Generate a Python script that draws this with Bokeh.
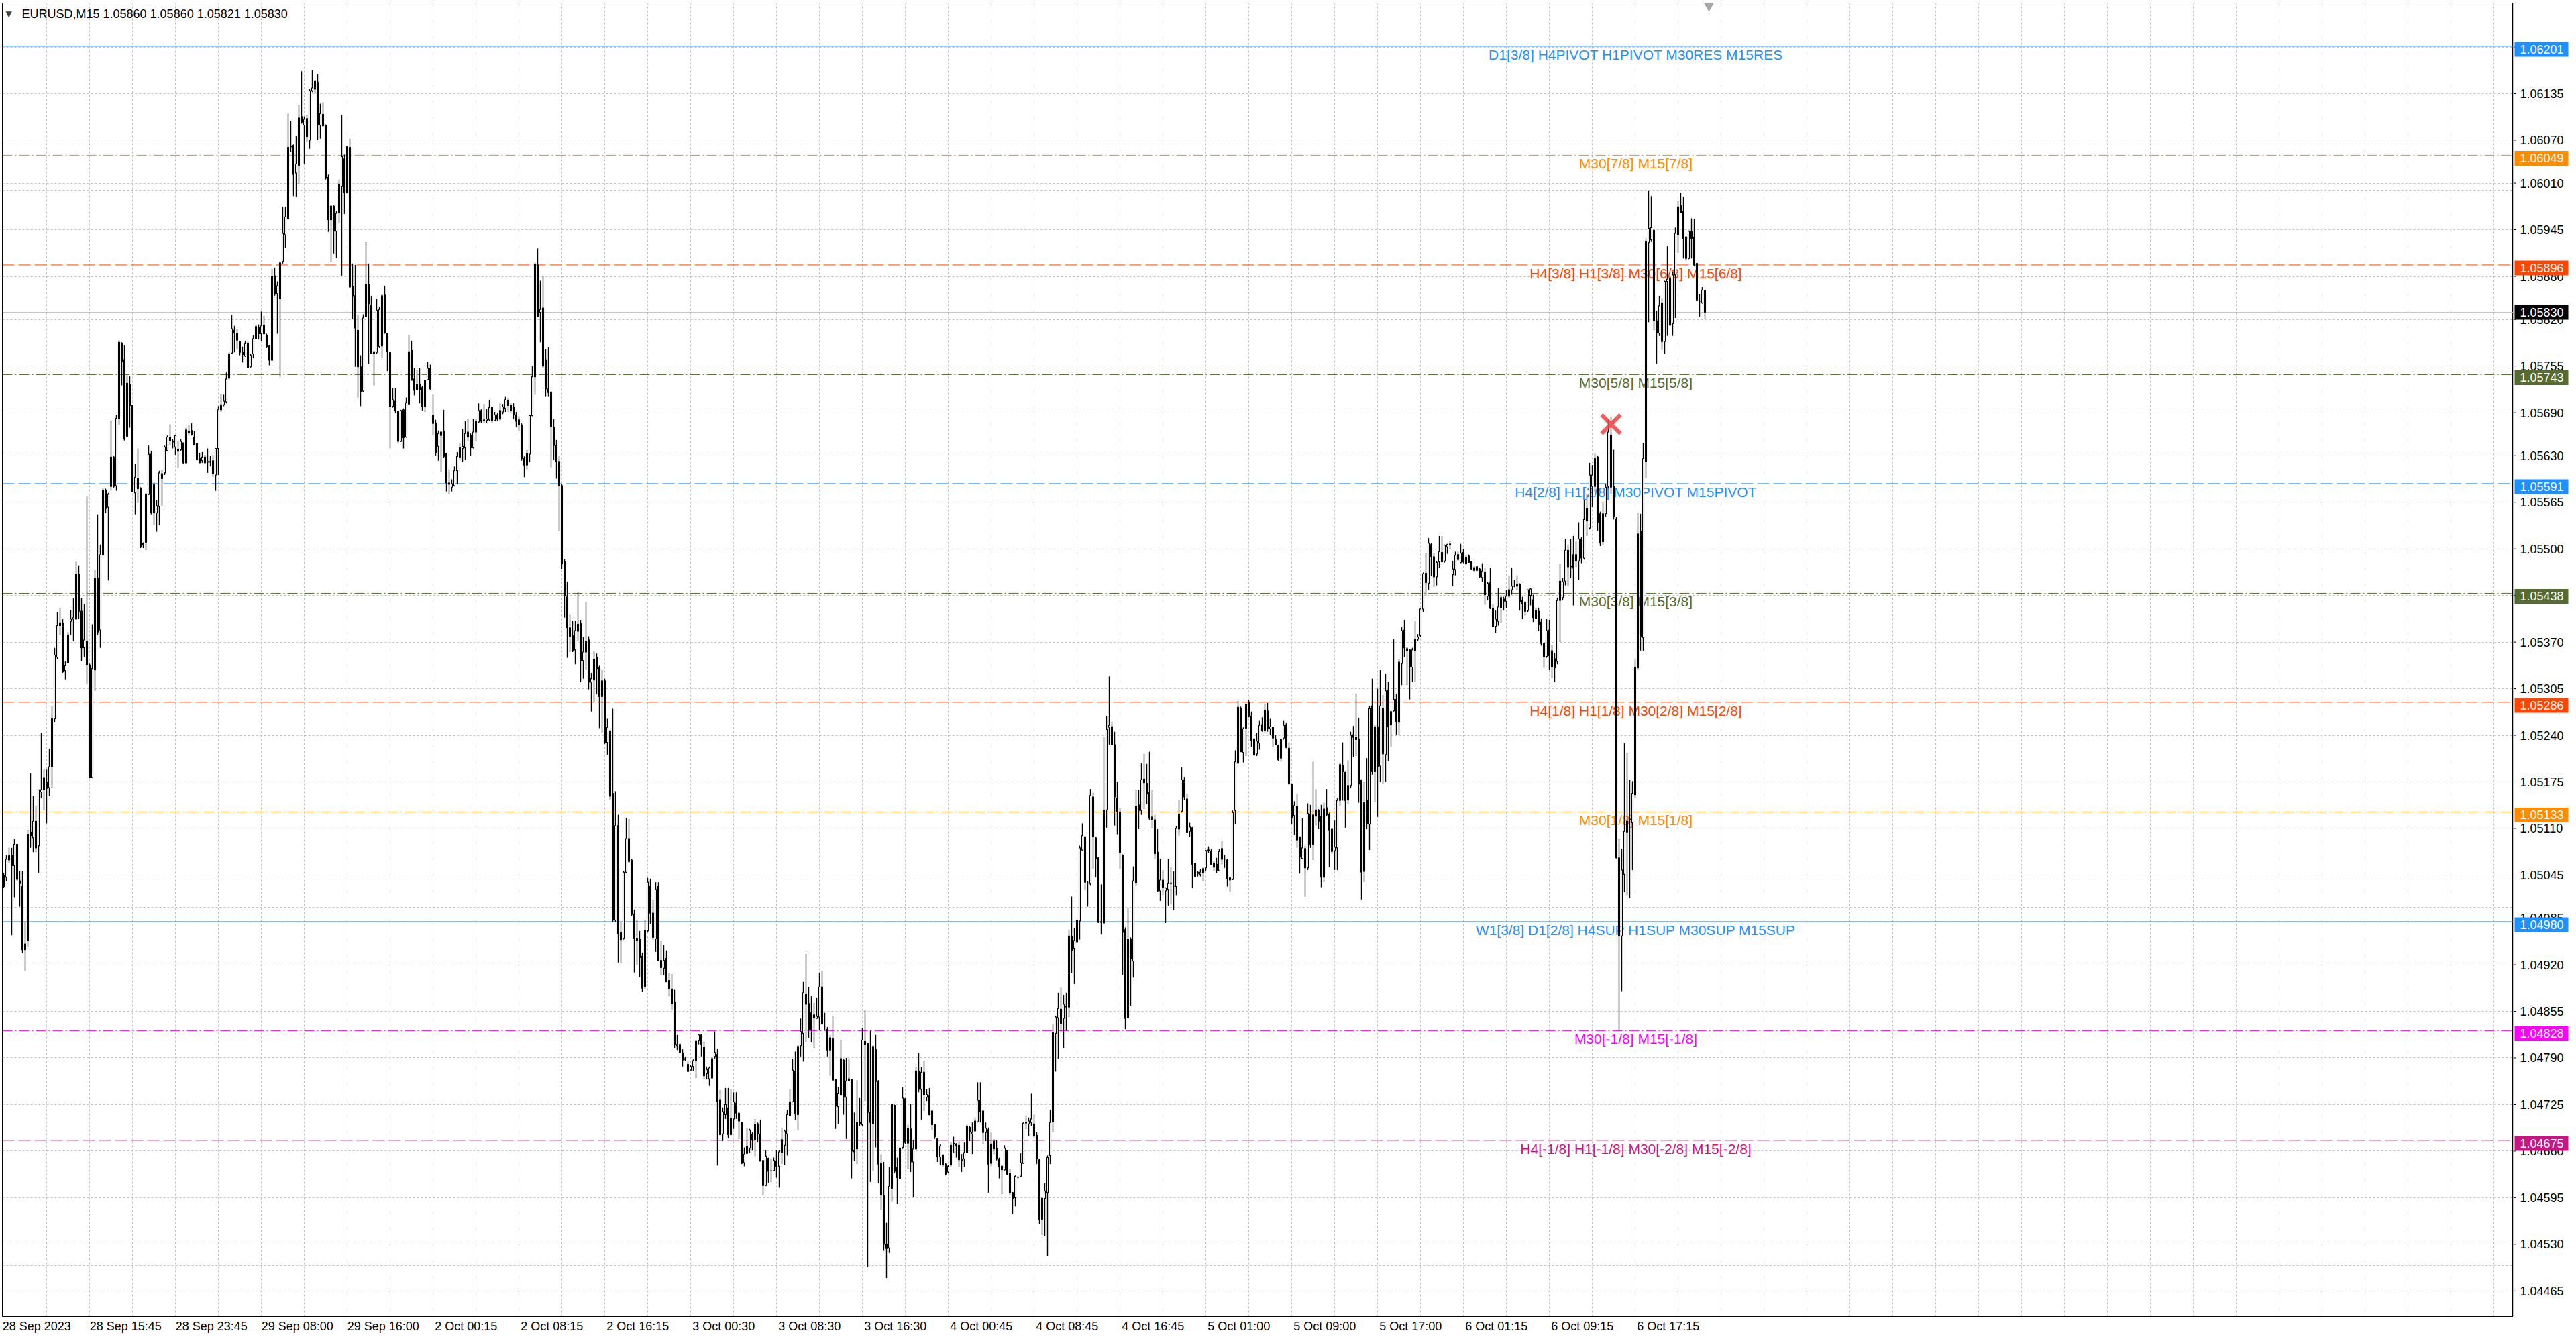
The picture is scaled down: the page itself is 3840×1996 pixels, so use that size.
import numpy as np
from bokeh.plotting import figure
from bokeh.layouts import row
from bokeh.embed import file_html
from bokeh.resources import INLINE
from bokeh.models import ColumnDataSource, FixedTicker, Grid, Span, Label, Range1d
from bokeh.core.properties import value

# EURUSD M15, prices as points above 1.00000 (5046 -> 1.05046)
OPEN_PTS = [
    5045, 5042, 5066, 5073, 5058, 5088, 5037, 5029, 4941, 4954,
    5105, 5097, 5120, 5086, 5161, 5164, 5175, 5167, 5196, 5263,
    5349, 5393, 5397, 5330, 5341, 5399, 5402, 5402, 5465, 5413,
    5362, 5371, 5338, 5181, 5331, 5459, 5387, 5492, 5582, 5558,
    5587, 5628, 5588, 5682, 5786, 5764, 5657, 5729, 5700, 5578,
    5598, 5584, 5508, 5509, 5576, 5632, 5590, 5550, 5559, 5598,
    5606, 5637, 5656, 5650, 5642, 5636, 5638, 5648, 5620, 5662,
    5665, 5656, 5647, 5627, 5623, 5628, 5621, 5621, 5623, 5603,
    5640, 5694, 5701, 5705, 5738, 5773, 5805, 5801, 5789, 5774,
    5769, 5786, 5754, 5772, 5793, 5809, 5800, 5812, 5798, 5783,
    5763, 5881, 5856, 5849, 5901, 5938, 5961, 6061, 6063, 6024,
    6035, 6103, 6091, 6100, 6070, 6139, 6141, 6151, 6091, 6106,
    6091, 6018, 5959, 5978, 5943, 5969, 6005, 6044, 5997, 6060,
    5866, 5853, 5805, 5754, 5720, 5824, 5869, 5840, 5772, 5774,
    5782, 5783, 5854, 5800, 5774, 5699, 5706, 5692, 5650, 5694,
    5656, 5702, 5777, 5737, 5722, 5730, 5725, 5698, 5736, 5752,
    5686, 5675, 5643, 5658, 5664, 5633, 5590, 5586, 5588, 5609,
    5628, 5640, 5641, 5663, 5658, 5641, 5663, 5677, 5693, 5679,
    5679, 5680, 5697, 5679, 5687, 5681, 5691, 5696, 5707, 5693,
    5698, 5687, 5680, 5673, 5626, 5617, 5632, 5686, 5740, 5896,
    5830, 5836, 5764, 5723, 5718, 5670, 5644, 5622, 5588, 5482,
    5433, 5390, 5379, 5359, 5385, 5396, 5344, 5356, 5373, 5314,
    5317, 5349, 5334, 5294, 5316, 5230, 5246, 5159, 4982, 5114,
    4965, 4957, 5049, 5096, 5066, 4990, 4954, 4955, 4932, 4889,
    4967, 5030, 4992, 4956, 5030, 4926, 4915, 4929, 4898, 4886,
    4868, 4807, 4809, 4797, 4789, 4781, 4773, 4778, 4786, 4814,
    4822, 4805, 4768, 4761, 4762, 4792, 4795, 4732, 4684, 4711,
    4720, 4683, 4705, 4727, 4713, 4700, 4644, 4657, 4664, 4683,
    4676, 4698, 4684, 4647, 4612, 4650, 4633, 4633, 4646, 4639,
    4658, 4668, 4684, 4710, 4729, 4771, 4711, 4807, 4824, 4879,
    4866, 4853, 4850, 4845, 4847, 4889, 4834, 4830, 4801, 4817,
    4760, 4722, 4738, 4787, 4735, 4758, 4760, 4661, 4663, 4700,
    4697, 4813, 4810, 4714, 4698, 4802, 4758, 4643, 4598, 4530,
    4525, 4608, 4724, 4638, 4622, 4665, 4733, 4671, 4691, 4645,
    4663, 4772, 4746, 4770, 4735, 4737, 4716, 4697, 4677, 4652,
    4655, 4642, 4631, 4641, 4671, 4670, 4668, 4648, 4649, 4658,
    4693, 4684, 4688, 4701, 4731, 4716, 4686, 4690, 4643, 4663,
    4664, 4649, 4639, 4634, 4661, 4629, 4602, 4595, 4623, 4625,
    4643, 4699, 4698, 4700, 4698, 4682, 4648, 4565, 4594, 4602,
    4654, 4701, 4824, 4846, 4858, 4845, 4861, 4861, 4959, 4943,
    4952, 4981, 5080, 5098, 5034, 5033, 5154, 5097, 5069, 4979,
    4978, 5136, 5251, 5252, 5227, 5152, 5133, 5073, 4969, 4846,
    4956, 4925, 5034, 5143, 5135, 5179, 5173, 5160, 5126, 5122,
    5077, 5023, 5038, 5023, 5025, 5033, 5029, 5029, 5109, 5134,
    5178, 5151, 5106, 5111, 5061, 5049, 5046, 5048, 5055, 5080,
    5078, 5056, 5060, 5051, 5082, 5067, 5066, 5041, 5039, 5135,
    5201, 5278, 5216, 5250, 5286, 5267, 5235, 5214, 5229, 5255,
    5247, 5274, 5249, 5251, 5234, 5226, 5208, 5236, 5255, 5222,
    5172, 5128, 5141, 5098, 5068, 5082, 5055, 5130, 5087, 5127,
    5135, 5127, 5042, 5139, 5130, 5109, 5079, 5083, 5149, 5198,
    5188, 5150, 5170, 5241, 5237, 5235, 5178, 5050, 5150, 5116,
    5281, 5189, 5252, 5197, 5277, 5213, 5303, 5255, 5274, 5290,
    5258, 5340, 5387, 5361, 5359, 5335, 5358, 5374, 5379, 5416,
    5453, 5452, 5506, 5489, 5461, 5482, 5495, 5483, 5503, 5506,
    5464, 5471, 5492, 5481, 5495, 5479, 5490, 5482, 5470, 5475,
    5472, 5460, 5467, 5434, 5453, 5417, 5392, 5399, 5418, 5430,
    5427, 5434, 5443, 5447, 5448, 5451, 5428, 5425, 5414, 5435,
    5429, 5403, 5413, 5398, 5368, 5350, 5387, 5358, 5347, 5343,
    5428, 5432, 5455, 5498, 5476, 5492, 5483, 5483, 5514, 5487,
    5539, 5529, 5587, 5587, 5628, 5549, 5510, 5549, 5587, 5659,
    5587, 5542, 5069, 4960, 5046, 5105, 5123, 5118, 5157, 5334,
    5525, 5376, 5622, 5927, 5931, 5944, 5818, 5801, 5843, 5789,
    5873, 5878, 5814, 5882, 5938, 5979, 5971, 5935, 5905, 5943,
    5935, 5898, 5845, 5843, 5860,
]
HIGH_PTS = [
    5048, 5073, 5083, 5083, 5095, 5088, 5051, 5051, 4979, 5108,
    5187, 5155, 5142, 5164, 5243, 5192, 5192, 5221, 5280, 5362,
    5412, 5418, 5402, 5343, 5384, 5415, 5431, 5482, 5477, 5431,
    5423, 5573, 5340, 5395, 5470, 5548, 5506, 5585, 5584, 5578,
    5678, 5630, 5687, 5791, 5788, 5784, 5742, 5741, 5701, 5618,
    5640, 5586, 5509, 5578, 5644, 5637, 5593, 5568, 5609, 5610,
    5644, 5658, 5674, 5653, 5659, 5650, 5653, 5648, 5669, 5672,
    5675, 5664, 5648, 5634, 5635, 5631, 5640, 5630, 5631, 5640,
    5699, 5716, 5715, 5746, 5774, 5826, 5811, 5807, 5790, 5782,
    5790, 5790, 5772, 5798, 5813, 5813, 5831, 5825, 5800, 5784,
    5890, 5892, 5873, 5900, 5977, 5977, 6107, 6097, 6064, 6076,
    6119, 6166, 6103, 6105, 6141, 6168, 6154, 6162, 6121, 6123,
    6092, 6022, 5979, 5979, 5971, 6015, 6105, 6050, 6062, 6072,
    5898, 5896, 5827, 5770, 5827, 5928, 5898, 5853, 5776, 5849,
    5837, 5855, 5867, 5800, 5775, 5724, 5724, 5693, 5694, 5696,
    5711, 5798, 5790, 5752, 5750, 5752, 5727, 5736, 5761, 5757,
    5715, 5680, 5665, 5665, 5694, 5634, 5611, 5597, 5615, 5635,
    5648, 5667, 5678, 5681, 5661, 5681, 5681, 5703, 5695, 5702,
    5695, 5708, 5698, 5691, 5689, 5703, 5702, 5712, 5710, 5703,
    5703, 5691, 5685, 5675, 5629, 5638, 5687, 5755, 5899, 5919,
    5874, 5880, 5779, 5781, 5720, 5681, 5652, 5629, 5590, 5486,
    5454, 5408, 5400, 5400, 5439, 5401, 5377, 5425, 5378, 5327,
    5358, 5354, 5337, 5331, 5319, 5263, 5248, 5277, 5162, 5129,
    4980, 5051, 5125, 5123, 5068, 4997, 4983, 4967, 4937, 4983,
    5041, 5040, 5010, 5035, 5035, 4954, 4948, 4940, 4908, 4907,
    4885, 4822, 4810, 4802, 4792, 4785, 4780, 4788, 4815, 4823,
    4823, 4813, 4778, 4778, 4792, 4827, 4803, 4745, 4721, 4748,
    4748, 4746, 4742, 4742, 4715, 4701, 4665, 4693, 4691, 4686,
    4705, 4700, 4704, 4647, 4661, 4651, 4649, 4651, 4661, 4661,
    4693, 4690, 4718, 4746, 4789, 4799, 4808, 4845, 4896, 4935,
    4889, 4876, 4867, 4874, 4909, 4912, 4853, 4833, 4822, 4848,
    4761, 4749, 4815, 4788, 4790, 4788, 4760, 4714, 4759, 4734,
    4832, 4857, 4810, 4828, 4808, 4822, 4759, 4656, 4645, 4560,
    4638, 4726, 4725, 4651, 4665, 4749, 4734, 4697, 4726, 4675,
    4777, 4797, 4777, 4786, 4746, 4748, 4717, 4698, 4678, 4669,
    4656, 4643, 4641, 4673, 4680, 4671, 4672, 4656, 4672, 4698,
    4695, 4700, 4707, 4756, 4756, 4718, 4700, 4693, 4686, 4677,
    4675, 4651, 4641, 4668, 4661, 4635, 4603, 4626, 4625, 4657,
    4700, 4710, 4707, 4740, 4711, 4686, 4649, 4596, 4615, 4654,
    4718, 4838, 4849, 4881, 4888, 4878, 4881, 4969, 5015, 4971,
    4983, 5086, 5117, 5100, 5037, 5165, 5160, 5098, 5070, 5032,
    5238, 5267, 5322, 5259, 5245, 5175, 5138, 5074, 4972, 4999,
    4958, 5057, 5164, 5164, 5201, 5214, 5200, 5217, 5164, 5129,
    5109, 5068, 5052, 5028, 5068, 5056, 5050, 5113, 5149, 5195,
    5182, 5158, 5118, 5112, 5062, 5050, 5053, 5056, 5080, 5085,
    5082, 5065, 5069, 5081, 5093, 5073, 5068, 5043, 5135, 5219,
    5288, 5280, 5251, 5285, 5289, 5273, 5235, 5243, 5260, 5265,
    5283, 5285, 5263, 5252, 5240, 5227, 5234, 5260, 5257, 5230,
    5173, 5148, 5158, 5099, 5124, 5086, 5145, 5143, 5203, 5165,
    5137, 5143, 5146, 5165, 5132, 5111, 5121, 5152, 5201, 5230,
    5189, 5205, 5245, 5253, 5297, 5264, 5178, 5175, 5208, 5281,
    5319, 5254, 5305, 5331, 5296, 5326, 5315, 5274, 5374, 5298,
    5346, 5391, 5401, 5363, 5360, 5362, 5400, 5381, 5417, 5467,
    5494, 5515, 5508, 5494, 5483, 5518, 5518, 5506, 5507, 5511,
    5483, 5496, 5496, 5507, 5500, 5491, 5492, 5483, 5476, 5476,
    5474, 5480, 5474, 5454, 5473, 5423, 5414, 5445, 5435, 5433,
    5443, 5463, 5474, 5457, 5463, 5452, 5433, 5427, 5443, 5445,
    5436, 5417, 5418, 5403, 5369, 5402, 5401, 5366, 5355, 5432,
    5479, 5459, 5514, 5506, 5514, 5518, 5510, 5537, 5516, 5568,
    5576, 5620, 5617, 5634, 5630, 5552, 5566, 5591, 5680, 5684,
    5638, 5545, 5095, 5082, 5229, 5215, 5178, 5176, 5347, 5550,
    5549, 5648, 5933, 6000, 5992, 5946, 5832, 5853, 5850, 5874,
    5922, 5881, 5886, 5948, 5985, 5997, 5991, 5936, 5944, 5961,
    5960, 5899, 5855, 5865, 5860,
]
LOW_PTS = [
    5027, 5036, 5061, 4961, 5014, 5036, 5001, 4936, 4911, 4945,
    5083, 5077, 5077, 5048, 5152, 5136, 5117, 5155, 5167, 5258,
    5346, 5380, 5327, 5318, 5340, 5380, 5371, 5402, 5402, 5343,
    5349, 5311, 5180, 5180, 5302, 5380, 5362, 5490, 5550, 5456,
    5581, 5585, 5581, 5672, 5728, 5651, 5656, 5669, 5580, 5548,
    5564, 5501, 5501, 5498, 5575, 5548, 5534, 5524, 5533, 5559,
    5603, 5636, 5645, 5640, 5631, 5613, 5637, 5618, 5618, 5658,
    5658, 5644, 5623, 5620, 5620, 5620, 5606, 5615, 5600, 5581,
    5603, 5691, 5699, 5703, 5736, 5772, 5774, 5779, 5770, 5760,
    5768, 5752, 5753, 5766, 5792, 5792, 5790, 5798, 5780, 5756,
    5762, 5853, 5800, 5740, 5898, 5920, 5959, 6054, 5992, 5991,
    6009, 6093, 6037, 6068, 6058, 6137, 6135, 6070, 6072, 6089,
    6015, 5942, 5900, 5912, 5906, 5955, 5881, 5967, 5995, 5863,
    5821, 5754, 5711, 5699, 5719, 5823, 5758, 5772, 5728, 5772,
    5780, 5766, 5800, 5748, 5640, 5697, 5689, 5647, 5649, 5640,
    5655, 5701, 5735, 5714, 5721, 5703, 5693, 5691, 5735, 5722,
    5658, 5630, 5623, 5607, 5627, 5580, 5577, 5580, 5587, 5590,
    5624, 5621, 5624, 5651, 5630, 5640, 5651, 5676, 5676, 5675,
    5676, 5678, 5675, 5678, 5678, 5678, 5688, 5691, 5691, 5689,
    5681, 5670, 5665, 5623, 5600, 5611, 5621, 5685, 5715, 5823,
    5788, 5752, 5712, 5712, 5614, 5624, 5598, 5525, 5472, 5404,
    5348, 5356, 5356, 5339, 5371, 5314, 5319, 5331, 5304, 5273,
    5287, 5297, 5250, 5243, 5228, 5213, 5150, 4980, 4980, 4923,
    4923, 4955, 5048, 5062, 4988, 4909, 4919, 4903, 4882, 4886,
    4965, 4977, 4955, 4938, 4925, 4906, 4906, 4896, 4877, 4857,
    4804, 4801, 4797, 4778, 4786, 4771, 4772, 4772, 4762, 4809,
    4792, 4761, 4760, 4751, 4761, 4789, 4640, 4682, 4674, 4705,
    4678, 4682, 4691, 4705, 4677, 4642, 4639, 4656, 4658, 4661,
    4653, 4672, 4646, 4598, 4611, 4616, 4617, 4632, 4623, 4609,
    4642, 4641, 4654, 4709, 4728, 4704, 4690, 4792, 4785, 4812,
    4818, 4812, 4804, 4845, 4828, 4837, 4829, 4792, 4765, 4759,
    4691, 4698, 4737, 4711, 4677, 4758, 4622, 4646, 4642, 4695,
    4695, 4730, 4498, 4617, 4633, 4665, 4615, 4578, 4521, 4483,
    4518, 4589, 4629, 4586, 4621, 4663, 4670, 4635, 4631, 4596,
    4661, 4742, 4704, 4716, 4730, 4710, 4690, 4677, 4645, 4641,
    4638, 4626, 4629, 4638, 4658, 4651, 4638, 4631, 4638, 4657,
    4674, 4656, 4688, 4700, 4700, 4670, 4674, 4602, 4639, 4656,
    4647, 4622, 4600, 4633, 4627, 4599, 4572, 4583, 4621, 4624,
    4643, 4691, 4681, 4695, 4679, 4642, 4559, 4543, 4541, 4514,
    4642, 4687, 4771, 4789, 4826, 4804, 4828, 4847, 4908, 4893,
    4950, 4955, 5079, 5025, 5001, 5031, 5053, 5042, 4978, 4962,
    4976, 5111, 5227, 5226, 5114, 5102, 5053, 4906, 4830, 4845,
    4863, 4902, 5030, 5109, 5129, 5137, 5144, 5122, 5111, 5068,
    5022, 5009, 5017, 4978, 5002, 5004, 4996, 5017, 5100, 5132,
    5150, 5104, 5098, 5027, 5042, 5043, 5043, 5037, 5050, 5076,
    5060, 5050, 5048, 5051, 5060, 5055, 5029, 5021, 5038, 5116,
    5200, 5217, 5202, 5211, 5265, 5224, 5211, 5211, 5220, 5245,
    5244, 5245, 5240, 5224, 5226, 5204, 5203, 5234, 5222, 5171,
    5116, 5101, 5083, 5047, 5067, 5015, 5052, 5083, 5066, 5114,
    5109, 5028, 5035, 5127, 5056, 5075, 5052, 5052, 5142, 5149,
    5111, 5144, 5166, 5210, 5211, 5146, 5011, 5035, 5109, 5080,
    5185, 5147, 5126, 5175, 5172, 5175, 5204, 5223, 5273, 5241,
    5241, 5310, 5349, 5310, 5290, 5314, 5314, 5371, 5377, 5412,
    5435, 5443, 5462, 5447, 5449, 5473, 5481, 5481, 5493, 5500,
    5448, 5463, 5483, 5480, 5480, 5478, 5481, 5471, 5468, 5469,
    5459, 5454, 5422, 5428, 5416, 5391, 5383, 5393, 5397, 5414,
    5417, 5432, 5436, 5447, 5443, 5414, 5402, 5407, 5412, 5421,
    5398, 5402, 5385, 5365, 5334, 5348, 5331, 5320, 5314, 5339,
    5370, 5428, 5449, 5448, 5459, 5421, 5475, 5457, 5480, 5485,
    5518, 5527, 5558, 5580, 5525, 5504, 5506, 5545, 5584, 5576,
    5541, 5068, 4827, 4883, 5021, 5017, 5013, 5052, 5153, 5331,
    5358, 5358, 5599, 5816, 5929, 5805, 5758, 5797, 5777, 5772,
    5797, 5811, 5797, 5822, 5913, 5969, 5905, 5902, 5904, 5905,
    5894, 5845, 5824, 5842, 5821,
]
CLOSE_PTS = [
    5029, 5067, 5072, 5058, 5088, 5039, 5033, 4941, 4949, 5102,
    5100, 5120, 5083, 5164, 5164, 5181, 5166, 5196, 5263, 5352,
    5393, 5397, 5329, 5337, 5380, 5402, 5404, 5465, 5413, 5362,
    5373, 5338, 5181, 5333, 5459, 5384, 5492, 5582, 5556, 5576,
    5628, 5587, 5682, 5788, 5761, 5653, 5731, 5700, 5580, 5600,
    5584, 5503, 5506, 5576, 5632, 5550, 5550, 5560, 5606, 5605,
    5642, 5656, 5651, 5649, 5658, 5639, 5650, 5620, 5666, 5664,
    5659, 5645, 5625, 5620, 5628, 5620, 5622, 5622, 5605, 5640,
    5694, 5701, 5706, 5737, 5771, 5807, 5801, 5791, 5774, 5771,
    5786, 5753, 5770, 5793, 5810, 5800, 5811, 5800, 5782, 5763,
    5880, 5855, 5867, 5899, 5940, 5963, 6060, 6062, 6022, 6037,
    6101, 6095, 6099, 6075, 6139, 6143, 6153, 6091, 6107, 6090,
    6017, 5959, 5978, 5943, 5968, 6008, 6047, 5997, 6061, 5865,
    5853, 5808, 5754, 5719, 5822, 5869, 5842, 5773, 5775, 5833,
    5834, 5853, 5801, 5775, 5698, 5708, 5693, 5650, 5693, 5655,
    5704, 5775, 5735, 5721, 5729, 5722, 5698, 5735, 5752, 5723,
    5675, 5634, 5661, 5663, 5629, 5592, 5592, 5591, 5609, 5629,
    5641, 5643, 5661, 5656, 5641, 5663, 5678, 5693, 5678, 5680,
    5681, 5697, 5679, 5687, 5681, 5693, 5698, 5708, 5700, 5700,
    5687, 5678, 5673, 5626, 5617, 5633, 5686, 5740, 5897, 5824,
    5834, 5755, 5723, 5718, 5671, 5644, 5622, 5588, 5479, 5435,
    5390, 5378, 5358, 5386, 5395, 5344, 5356, 5371, 5314, 5319,
    5346, 5333, 5294, 5316, 5230, 5251, 5155, 4982, 5114, 4963,
    4955, 5049, 5096, 5064, 4990, 4957, 4957, 4930, 4887, 4968,
    5035, 4992, 4958, 5025, 4926, 4916, 4926, 4896, 4886, 4866,
    4809, 4809, 4798, 4787, 4788, 4771, 4778, 4786, 4813, 4822,
    4809, 4765, 4774, 4776, 4789, 4798, 4729, 4683, 4715, 4725,
    4683, 4706, 4729, 4713, 4702, 4643, 4656, 4667, 4689, 4676,
    4697, 4684, 4646, 4612, 4653, 4632, 4633, 4647, 4639, 4659,
    4676, 4688, 4711, 4729, 4773, 4712, 4806, 4827, 4881, 4865,
    4829, 4829, 4846, 4848, 4889, 4837, 4834, 4801, 4818, 4759,
    4723, 4740, 4789, 4735, 4758, 4761, 4660, 4659, 4700, 4698,
    4815, 4809, 4714, 4700, 4806, 4757, 4642, 4599, 4530, 4524,
    4611, 4725, 4632, 4623, 4664, 4734, 4672, 4692, 4645, 4663,
    4772, 4746, 4770, 4739, 4739, 4711, 4697, 4680, 4652, 4667,
    4641, 4628, 4639, 4668, 4670, 4668, 4648, 4647, 4658, 4695,
    4687, 4686, 4702, 4731, 4715, 4686, 4692, 4642, 4670, 4674,
    4649, 4638, 4634, 4664, 4628, 4602, 4593, 4625, 4623, 4644,
    4699, 4700, 4702, 4705, 4681, 4649, 4564, 4594, 4604, 4651,
    4700, 4825, 4847, 4859, 4838, 4865, 4862, 4960, 4940, 4954,
    4982, 5083, 5100, 5035, 5034, 5156, 5098, 5068, 4979, 4980,
    5135, 5248, 5254, 5227, 5154, 5134, 5076, 4965, 4845, 4956,
    4928, 5037, 5141, 5135, 5178, 5174, 5158, 5124, 5122, 5075,
    5023, 5038, 5028, 5027, 5033, 5034, 5029, 5110, 5130, 5178,
    5154, 5105, 5112, 5060, 5043, 5047, 5049, 5054, 5079, 5079,
    5060, 5061, 5051, 5078, 5067, 5067, 5040, 5038, 5132, 5203,
    5279, 5217, 5249, 5283, 5266, 5233, 5213, 5232, 5254, 5247,
    5275, 5250, 5252, 5236, 5227, 5206, 5234, 5254, 5223, 5173,
    5125, 5142, 5094, 5070, 5083, 5055, 5131, 5088, 5129, 5136,
    5120, 5042, 5137, 5129, 5108, 5078, 5084, 5149, 5199, 5189,
    5149, 5170, 5240, 5237, 5234, 5172, 5049, 5146, 5117, 5277,
    5189, 5252, 5196, 5281, 5214, 5302, 5252, 5273, 5290, 5259,
    5342, 5386, 5362, 5358, 5335, 5359, 5374, 5377, 5416, 5465,
    5466, 5508, 5489, 5461, 5481, 5496, 5482, 5505, 5506, 5507,
    5472, 5491, 5485, 5494, 5482, 5488, 5481, 5472, 5474, 5470,
    5461, 5469, 5436, 5452, 5417, 5392, 5402, 5419, 5432, 5427,
    5434, 5443, 5448, 5447, 5450, 5426, 5423, 5413, 5443, 5444,
    5404, 5414, 5395, 5368, 5350, 5386, 5351, 5335, 5334, 5428,
    5455, 5454, 5498, 5475, 5475, 5473, 5492, 5514, 5487, 5541,
    5556, 5603, 5603, 5626, 5537, 5508, 5549, 5586, 5663, 5586,
    5545, 5069, 4960, 5052, 5106, 5120, 5122, 5159, 5335, 5521,
    5378, 5626, 5929, 5947, 5948, 5818, 5801, 5839, 5789, 5873,
    5876, 5812, 5882, 5940, 5977, 5969, 5933, 5905, 5943, 5933,
    5896, 5847, 5845, 5861, 5830,
]

# time axis: bar index of each label and its text
TIME_BARS = [0, 32, 64, 96, 128, 160, 192, 224, 256, 288,
             320, 352, 384, 416, 448, 480, 512, 544, 576, 608]
TIME_LABELS = ["28 Sep 2023", "28 Sep 15:45", "28 Sep 23:45", "29 Sep 08:00", "29 Sep 16:00",
               "2 Oct 00:15", "2 Oct 08:15", "2 Oct 16:15", "3 Oct 00:30", "3 Oct 08:30",
               "3 Oct 16:30", "4 Oct 00:45", "4 Oct 08:45", "4 Oct 16:45", "5 Oct 01:00",
               "5 Oct 09:00", "5 Oct 17:00", "6 Oct 01:15", "6 Oct 09:15", "6 Oct 17:15"]

PRICE_TICKS = [1.06200, 1.06135, 1.06070, 1.06010, 1.05945, 1.05880, 1.05820, 1.05755,
               1.05690, 1.05630, 1.05565, 1.05500, 1.05435, 1.05370, 1.05305, 1.05240,
               1.05175, 1.05110, 1.05045, 1.04985, 1.04920, 1.04855, 1.04790, 1.04725,
               1.04660, 1.04595, 1.04530, 1.04465]

# Murrey math levels
LEVEL_PRICES = [1.06201, 1.06049, 1.05896, 1.05743, 1.05591, 1.05438,
                1.05286, 1.05133, 1.04980, 1.04828, 1.04675]
LEVEL_NAMES = ["D1[3/8] H4PIVOT H1PIVOT M30RES M15RES",
               "M30[7/8] M15[7/8]",
               "H4[3/8] H1[3/8] M30[6/8] M15[6/8]",
               "M30[5/8] M15[5/8]",
               "H4[2/8] H1[2/8] M30PIVOT M15PIVOT",
               "M30[3/8] M15[3/8]",
               "H4[1/8] H1[1/8] M30[2/8] M15[2/8]",
               "M30[1/8] M15[1/8]",
               "W1[3/8] D1[2/8] H4SUP H1SUP M30SUP M15SUP",
               "M30[-1/8] M15[-1/8]",
               "H4[-1/8] H1[-1/8] M30[-2/8] M15[-2/8]"]
LEVEL_COLORS = ["#1E90FF", "#FF8C00", "#FF4500", "#556B2F", "#1E90FF", "#556B2F",
                "#FF4500", "#FF8C00", "#1E90FF", "#FF00FF", "#C71585"]
LEVEL_DASH = ["solid", "15 4 2 4", "18 6", "15 4 2 4", "18 6", "15 4 2 4",
              "18 6", "15 4 2 4", "solid", "15 4 2 4", "18 6"]

BID = 1.05830
TITLE = "EURUSD,M15  1.05860 1.05860 1.05821 1.05830"
MARK_BAR, MARK_PRICE = 599, 1.05674
SHIFT_BAR = 635.5
LABEL_BAR = 608.25

FONT = "Liberation Sans"
FW, FH = 3743, 1958
SIDE_W = 86
Y0, Y1 = 1.044293, 1.062613

n = min(len(OPEN_PTS), len(HIGH_PTS), len(LOW_PTS), len(CLOSE_PTS))
o = 1 + np.array(OPEN_PTS[:n]) / 1e5
h = 1 + np.array(HIGH_PTS[:n]) / 1e5
l = 1 + np.array(LOW_PTS[:n]) / 1e5
c = 1 + np.array(CLOSE_PTS[:n]) / 1e5
bull = c >= o

src = ColumnDataSource(data=dict(
    x=np.arange(n), high=h, low=l,
    top=np.maximum(o, c), bottom=np.minimum(o, c),
    fill=np.where(bull, "white", "black"),
))

p = figure(frame_width=FW, frame_height=FH,
           x_range=Range1d(-0.5, 935.25), y_range=Range1d(Y0, Y1),
           x_axis_location="below", y_axis_location=None,
           min_border_left=3, min_border_top=4, min_border_right=0, min_border_bottom=22,
           output_backend="svg", toolbar_location=None, tools="")
p.background_fill_color = "white"
p.border_fill_color = "white"
p.outline_line_color = "black"

# grid
p.xgrid.ticker = FixedTicker(ticks=list(range(16, 936, 16)))
p.add_layout(Grid(dimension=1, ticker=FixedTicker(ticks=PRICE_TICKS)))
p.grid.grid_line_color = "#c0c0c0"
p.grid.grid_line_dash = "3 3"

# time axis: MT4 writes the text starting at the bar, so centre it half a label further right
half = [round(b + len(t) * 1.12, 2) for b, t in zip(TIME_BARS, TIME_LABELS)]
p.xaxis.ticker = FixedTicker(ticks=half)
p.xaxis.major_label_overrides = {k: t for k, t in zip(half, TIME_LABELS)}
p.xaxis.major_label_text_font = FONT
p.xaxis.major_label_text_font_size = "18px"
p.xaxis.major_label_text_color = "black"
p.xaxis.axis_line_color = "black"
p.xaxis.major_tick_line_color = None
p.xaxis.minor_tick_line_color = None
p.xaxis.major_label_standoff = -2

# level lines
for price, col, dash in zip(LEVEL_PRICES, LEVEL_COLORS, LEVEL_DASH):
    p.add_layout(Span(location=price, dimension="width", line_color=col,
                      line_width=1, line_dash=dash, level="underlay"))
p.add_layout(Span(location=BID, dimension="width", line_color="#c0c0c0",
                  line_width=1, level="underlay"))

lvl = ColumnDataSource(data=dict(x=[LABEL_BAR] * len(LEVEL_PRICES), y=LEVEL_PRICES,
                                 name=LEVEL_NAMES, color=LEVEL_COLORS))
p.text(x="x", y="y", text="name", text_color="color", source=lvl,
       text_align="center", text_baseline="top", y_offset=1,
       text_font=value(FONT), text_font_size="21px")

# candles
p.segment(x0="x", y0="low", x1="x", y1="high", source=src, line_color="black", line_width=1.4)
p.vbar(x="x", top="top", bottom="bottom", width=0.5, source=src,
       fill_color="fill", line_color="black", line_width=1.1)

p.scatter(x=[MARK_BAR], y=[MARK_PRICE], marker="x", size=40,
          line_color="#ee4848", line_width=6, line_alpha=0.9)

# chart shift marker at the top edge
px = (Y1 - Y0) / FH
p.scatter(x=[SHIFT_BAR], y=[Y1 - 3 * px], marker="inverted_triangle", size=16,
          fill_color="#a8a8a8", line_color="#a8a8a8")

# window caption
p.add_layout(Label(x=5, y=FH - 9, x_units="screen", y_units="screen", text="▼",
                   text_font="DejaVu Sans", text_font_size="12px", text_baseline="top"))
p.add_layout(Label(x=29, y=FH - 6, x_units="screen", y_units="screen", text=TITLE,
                   text_font=FONT, text_font_size="18px", text_baseline="top",
                   text_color="black"))

# price scale on the right: shares the price range with the chart
s = figure(frame_width=SIDE_W, frame_height=FH,
           x_range=Range1d(0, SIDE_W), y_range=p.y_range,
           x_axis_location=None, y_axis_location=None,
           min_border_left=0, min_border_top=4, min_border_right=0, min_border_bottom=22,
           output_backend="svg", toolbar_location=None, tools="")
s.background_fill_color = "white"
s.border_fill_color = "white"
s.outline_line_color = None
s.grid.visible = False

ticks = ColumnDataSource(data=dict(y=PRICE_TICKS, t=[f"{v:.5f}" for v in PRICE_TICKS]))
s.segment(x0=0, y0="y", x1=4, y1="y", source=ticks, line_color="black", line_width=1)
s.text(x=10, y="y", text="t", source=ticks, text_baseline="middle", text_align="left",
       text_font=value(FONT), text_font_size="18px", text_color="black")
s.add_layout(Span(location=0.5, dimension="height", line_color="black", line_width=1))

box_y = [v - 4.5 * px for v in LEVEL_PRICES] + [BID]
box_c = LEVEL_COLORS + ["black"]
boxes = ColumnDataSource(data=dict(y=box_y, c=box_c,
                                   t=[f"{v:.5f}" for v in LEVEL_PRICES + [BID]]))
s.rect(x=42, y="y", width=80, height=22, height_units="screen", source=boxes,
       fill_color="c", line_color=None)
s.text(x=10, y="y", text="t", source=boxes, text_baseline="middle", text_align="left",
       text_font=value(FONT), text_font_size="18px", text_color="white")

open("out.html", "w").write(file_html(row(p, s), INLINE))
